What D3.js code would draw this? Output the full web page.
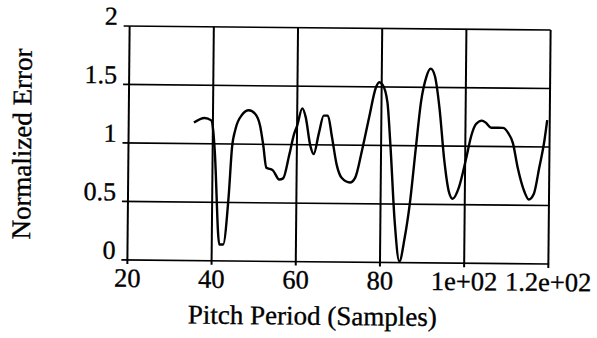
<!DOCTYPE html>
<html>
<head>
<meta charset="utf-8">
<script src="https://cdn.jsdelivr.net/npm/d3@7"></script>
<style>
  html, body { margin: 0; padding: 0; background: #fff; }
  svg text { font-family: "Liberation Serif", "Times New Roman", serif; fill: #000; stroke: #000; stroke-width: 0.35px; }
</style>
</head>
<body>
<svg id="chart" width="597" height="338"></svg>
<script>
// ---- data ----
const pitch = [35.5, 38.0, 39.6, 40.1, 40.5, 41.8, 42.7, 43.9, 44.6, 45.4, 46.9, 48.5, 50.0, 51.2, 52.0, 52.8, 54.3, 55.9, 56.8, 58.2, 59.3, 60.0, 61.2, 62.0, 63.2, 64.0, 65.2, 66.3, 67.3, 68.3, 69.5, 70.7, 72.7, 73.9, 75.5, 77.1, 78.6, 79.4, 80.2, 81.4, 82.2, 83.4, 84.6, 85.8, 87.0, 88.2, 89.4, 90.6, 91.6, 92.6, 93.8, 95.0, 96.2, 97.1, 98.6, 100.2, 101.4, 102.5, 103.9, 104.9, 106.1, 107.7, 108.9, 110.1, 111.3, 112.5, 114.1, 115.2, 116.4, 117.6, 118.8, 119.4];
const error = [1.18, 1.22, 1.20, 1.11, 0.94, 0.14, 0.14, 0.55, 0.97, 1.13, 1.25, 1.29, 1.26, 1.16, 0.995, 0.80, 0.78, 0.70, 0.71, 0.91, 1.09, 1.16, 1.31, 1.24, 0.99, 0.92, 1.10, 1.25, 1.25, 1.07, 0.83, 0.72, 0.68, 0.72, 0.96, 1.24, 1.49, 1.54, 1.52, 1.37, 1.01, 0.35, 0.01, 0.21, 0.52, 0.96, 1.38, 1.59, 1.66, 1.60, 1.32, 0.89, 0.61, 0.55, 0.65, 0.89, 1.09, 1.19, 1.22, 1.20, 1.16, 1.16, 1.16, 1.12, 1.03, 0.82, 0.62, 0.55, 0.60, 0.82, 1.06, 1.23];
const xTicks = [20, 40, 60, 80, 100, 120];
const xTickLabels = ["20", "40", "60", "80", "1e+02", "1.2e+02"];
const yTicks = [0, 0.5, 1, 1.5, 2];
const yTickLabels = ["0", "0.5", "1", "1.5", "2"];
const xTitle = "Pitch Period (Samples)";
const yTitle = "Normalized Error";

// ---- layout ----
const svg = d3.select("#chart");
const pL = 128.5, pR = 549.5, pT = 28, pB = 262;
const x = d3.scaleLinear().domain([20, 120]).range([pL, pR]);
const y = d3.scaleLinear().domain([0, 2]).range([pB, pT]);

const g = svg.append("g")
  .attr("transform", `rotate(0.55, ${(pL + pR) / 2}, ${(pT + pB) / 2})`);

// horizontal grid lines (with small tick stubs to the left)
g.append("g").selectAll("line").data(yTicks).join("line")
  .attr("x1", pL - 6).attr("x2", pR)
  .attr("y1", d => y(d)).attr("y2", d => y(d))
  .attr("stroke", "#000").attr("stroke-width", 1.6);

// vertical grid lines (with small stubs below)
g.append("g").selectAll("line").data(xTicks).join("line")
  .attr("x1", d => x(d)).attr("x2", d => x(d))
  .attr("y1", pT).attr("y2", pB + 4)
  .attr("stroke", "#000").attr("stroke-width", 2);

// y tick labels
g.append("g").selectAll("text").data(yTicks).join("text")
  .attr("x", pL - 12).attr("y", d => y(d) - 1)
  .attr("text-anchor", "end")
  .attr("font-size", 26)
  .text((d, i) => yTickLabels[i]);

// x tick labels
g.append("g").selectAll("text").data(xTicks).join("text")
  .attr("x", d => x(d)).attr("y", pB + 27)
  .attr("text-anchor", "middle")
  .attr("font-size", 26.5)
  .text((d, i) => xTickLabels[i]);

// axis titles
g.append("text")
  .attr("x", (pL + pR) / 2 - 25).attr("y", 325)
  .attr("text-anchor", "middle")
  .attr("font-size", 27)
  .text(xTitle);

g.append("text")
  .attr("transform", `translate(31, 147) rotate(-90)`)
  .attr("text-anchor", "middle")
  .attr("font-size", 27)
  .text(yTitle);

// curve
const pts = pitch.map((p, i) => [p, error[i]]);
const line = d3.line()
  .x(d => x(d[0])).y(d => y(d[1]))
  .curve(d3.curveMonotoneX);
g.append("path")
  .attr("d", line(pts))
  .attr("fill", "none")
  .attr("stroke", "#000")
  .attr("stroke-width", 2.4)
  .attr("stroke-linejoin", "round");
</script>
</body>
</html>
